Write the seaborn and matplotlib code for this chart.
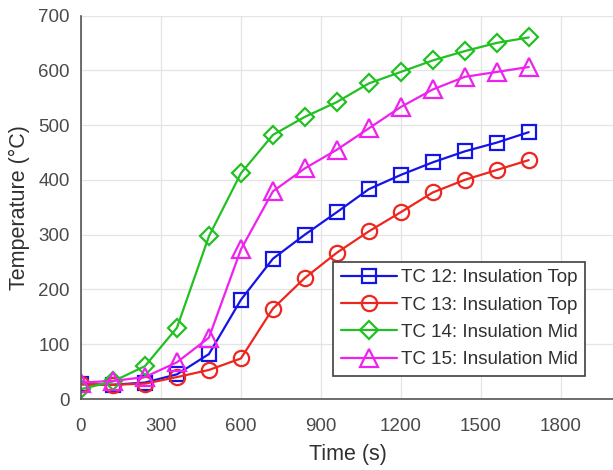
import matplotlib
matplotlib.use("Agg")
import matplotlib.pyplot as plt
import seaborn as sns
import pandas as pd

# Thermocouple readings, sampled every 120 s
time_s = [0, 120, 240, 360, 480, 600, 720, 840, 960, 1080, 1200, 1320, 1440, 1560, 1680]
tc12 = [27, 26, 30, 45, 82, 181, 256, 300, 341, 383, 409, 432, 452, 468, 487]
tc13 = [27, 26, 28, 40, 53, 74, 165, 221, 267, 306, 341, 377, 400, 418, 436]
tc14 = [18, 32, 60, 130, 297, 412, 482, 515, 542, 576, 597, 618, 635, 650, 660]
tc15 = [30, 33, 40, 67, 112, 273, 379, 421, 455, 494, 533, 565, 588, 597, 606]

labels = ["TC 12: Insulation Top", "TC 13: Insulation Top",
          "TC 14: Insulation Mid", "TC 15: Insulation Mid"]
x_ticks = [0, 300, 600, 900, 1200, 1500, 1800]
y_ticks = [0, 100, 200, 300, 400, 500, 600, 700]

series = [tc12, tc13, tc14, tc15]
colors = ["#1414e6", "#ee2620", "#22c022", "#ee22ee"]
markers = ["s", "o", "D", "^"]
msizes = [10.5, 11, 9.5, 13.5]

sns.set_theme(style="whitegrid")
plt.rcParams["font.family"] = ["Liberation Sans", "DejaVu Sans"]

fig = plt.figure(figsize=(6.13, 4.70), dpi=100)
ax = fig.add_axes([81 / 613, 71 / 470, 533 / 613, 383.5 / 470])

for vals, lab, col, mk, ms in zip(series, labels, colors, markers, msizes):
    df = pd.DataFrame({"Time (s)": time_s, "Temperature": vals})
    sns.lineplot(data=df, x="Time (s)", y="Temperature", ax=ax, label=lab,
                 color=col, linewidth=1.6, marker=mk, markersize=ms,
                 markerfacecolor="none", markeredgecolor=col,
                 markeredgewidth=1.6, estimator=None)

ax.set_xlim(0, 2000)
ax.set_ylim(0, 700)
ax.set_xticks(x_ticks)
ax.set_yticks(y_ticks)
ax.grid(True, color="#e4e4e4", linewidth=0.9)
for side in ["top", "right"]:
    ax.spines[side].set_visible(False)
for side in ["left", "bottom"]:
    ax.spines[side].set_color("#555555")
    ax.spines[side].set_linewidth(1.2)
ax.tick_params(axis="both", direction="in", length=4, width=1,
               color="#555555", labelsize=13.5, labelcolor="#4a4a4a")
ax.tick_params(axis="x", pad=14)
ax.tick_params(axis="y", pad=8)
ax.set_xlabel("Time (s)", fontsize=15.5, color="#303030", labelpad=6)
ax.set_ylabel("Temperature (°C)", fontsize=15.5, color="#303030", labelpad=6)

leg = ax.legend(loc="lower left", bbox_to_anchor=(0.473, 0.06), fontsize=13.5,
                frameon=True, fancybox=False, edgecolor="#404040",
                framealpha=1, handlelength=3.0, handletextpad=0.2,
                borderpad=0.4, labelspacing=0.55, borderaxespad=0)
leg.get_frame().set_linewidth(1.2)
for t in leg.get_texts():
    t.set_color("#303030")

fig.savefig("out.png", dpi=100)
